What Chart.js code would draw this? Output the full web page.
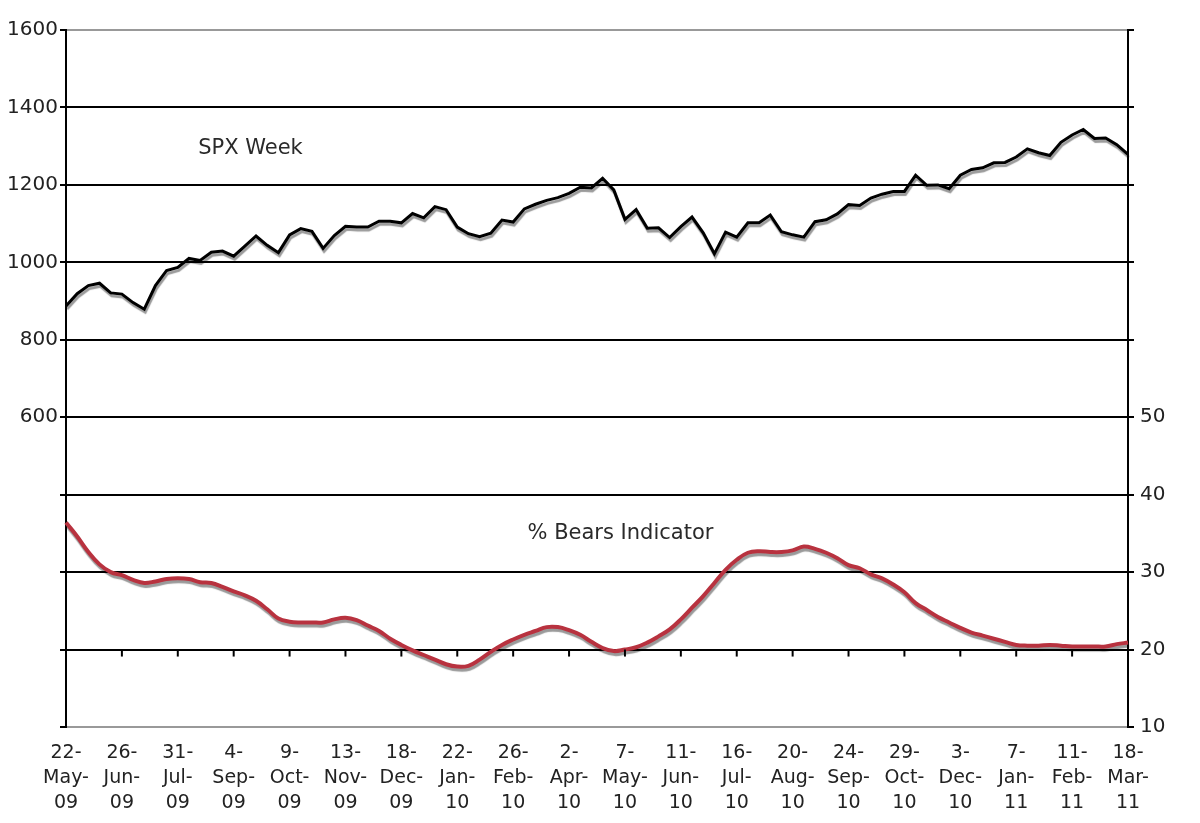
<!DOCTYPE html>
<html>
<head>
<meta charset="utf-8">
<script src="https://cdn.jsdelivr.net/npm/chart.js@4.4.1/dist/chart.umd.min.js"></script>
<style>
    body { margin: 0; background: #fff; }
    #wrap { width: 1200px; height: 823px; position: relative; }
</style>
</head>
<body>
<div id="wrap"><canvas id="spxChart"></canvas></div>
<script>
// Weekly closes, 22-May-09 .. 18-Mar-11 (96 weeks)
const firstWeek = Date.UTC(2009, 4, 22);
const weekCount = 96;

const spxWeek = [
    887, 919, 940, 946, 921, 918, 896, 879, 940, 979,
    987, 1010, 1005, 1026, 1029, 1016, 1042, 1068, 1044, 1025,
    1071, 1087, 1080, 1036, 1069, 1093, 1091, 1091, 1106, 1106,
    1102, 1126, 1115, 1144, 1136, 1091, 1074, 1066, 1075, 1109,
    1104, 1138, 1150, 1160, 1167, 1178, 1194, 1192, 1217, 1187,
    1111, 1136, 1088, 1089, 1064, 1092, 1117, 1076, 1022, 1078,
    1065, 1102, 1102, 1122, 1079, 1071, 1065, 1105, 1110, 1125,
    1149, 1147, 1166, 1176, 1183, 1183, 1225, 1199, 1200, 1190,
    1225, 1240, 1244, 1257, 1258, 1272, 1293, 1283, 1276, 1310,
    1329, 1343, 1320, 1321, 1304, 1279
];

const bearsPct = [
    36.4, 34.6, 32.6, 31.0, 30.0, 29.6, 29.0, 28.6, 28.8, 29.1,
    29.2, 29.1, 28.7, 28.6, 28.1, 27.5, 27.0, 26.3, 25.2, 24.0,
    23.6, 23.5, 23.5, 23.5, 23.9, 24.1, 23.8, 23.1, 22.4, 21.4,
    20.6, 19.9, 19.3, 18.7, 18.1, 17.8, 17.9, 18.7, 19.7, 20.6,
    21.3, 21.9, 22.4, 22.9, 22.9, 22.5, 21.9, 21.0, 20.2, 19.8,
    20.0, 20.3, 20.9, 21.7, 22.6, 23.9, 25.4, 26.9, 28.6, 30.3,
    31.6, 32.5, 32.7, 32.6, 32.6, 32.8, 33.3, 33.0, 32.5, 31.8,
    30.9, 30.5, 29.7, 29.2, 28.4, 27.4, 26.0, 25.1, 24.2, 23.5,
    22.8, 22.2, 21.8, 21.4, 21.0, 20.6, 20.5, 20.5, 20.6, 20.5,
    20.4, 20.4, 20.4, 20.4, 20.7, 20.9
];

const labelEvery = 5;
const leftLabelFrom = 600;   // lower left-axis labels are hidden in the original
const rightLabelTo = 50;     // right axis only labelled 10..50

const monthNames = ['Jan', 'Feb', 'Mar', 'Apr', 'May', 'Jun', 'Jul', 'Aug', 'Sep', 'Oct', 'Nov', 'Dec'];

function weekLabels() {
    const out = [];
    for (let i = 0; i < weekCount; i++) {
        const d = new Date(firstWeek + i * 7 * 86400000);
        const yy = String(d.getUTCFullYear()).slice(2);
        out.push(d.getUTCDate() + '-' + monthNames[d.getUTCMonth()] + '-' + yy);
    }
    return out;
}

document.addEventListener('DOMContentLoaded', function () {
    initSpxChart();
});

// grey drop shadow under both lines, like the Excel original
const lineShadow = {
    id: 'lineShadow',
    beforeDatasetDraw(chart) {
        const ctx = chart.ctx;
        ctx.save();
        ctx.shadowColor = 'rgba(0, 0, 0, 0.4)';
        ctx.shadowOffsetX = 1;
        ctx.shadowOffsetY = 3;
        ctx.shadowBlur = 1;
    },
    afterDatasetDraw(chart) {
        chart.ctx.restore();
    }
};

// category tick marks sit on the zero line of the left axis, plus the two captions
const extras = {
    id: 'extras',
    afterDraw(chart) {
        const ctx = chart.ctx;
        const x = chart.scales.x;
        const y = chart.scales.y;
        const y2 = chart.scales.y2;
        const zero = y.getPixelForValue(0);
        ctx.save();
        ctx.strokeStyle = '#000';
        ctx.lineWidth = 2;
        for (let i = labelEvery; i < weekCount - 1; i += labelEvery) {
            const px = x.getPixelForValue(i);
            ctx.beginPath();
            ctx.moveTo(px, zero);
            ctx.lineTo(px, zero + 7);
            ctx.stroke();
        }
        ctx.fillStyle = '#2a2a2a';
        ctx.font = "21px 'DejaVu Sans', sans-serif";
        ctx.textAlign = 'center';
        ctx.textBaseline = 'middle';
        ctx.fillText('SPX Week', x.getPixelForValue(16.5), y.getPixelForValue(1295));
        ctx.fillText('% Bears Indicator', x.getPixelForValue(49.6), y2.getPixelForValue(35.0));
        ctx.restore();
    }
};

function initSpxChart() {
    const ctx = document.getElementById('spxChart').getContext('2d');
    const tickFont = { family: "'DejaVu Sans', sans-serif", size: 20 };

    new Chart(ctx, {
        type: 'line',
        data: {
            labels: weekLabels(),
            datasets: [{
                label: 'SPX Week',
                data: spxWeek,
                yAxisID: 'y',
                borderColor: '#000',
                borderWidth: 3,
                pointRadius: 0,
                tension: 0
            }, {
                label: '% Bears Indicator',
                data: bearsPct,
                yAxisID: 'y2',
                borderColor: '#b8323f',
                borderWidth: 4,
                pointRadius: 0,
                tension: 0.4
            }]
        },
        options: {
            responsive: true,
            maintainAspectRatio: false,
            animation: false,
            layout: { padding: { top: 30, left: 0, right: 0, bottom: 0 } },
            plugins: {
                legend: { display: false },
                tooltip: { enabled: false }
            },
            scales: {
                x: {
                    type: 'category',
                    offset: false,
                    grid: { display: false, drawTicks: false },
                    border: { color: '#999', width: 2 },
                    ticks: {
                        autoSkip: false,
                        maxRotation: 0,
                        minRotation: 0,
                        padding: 14,
                        color: '#222',
                        font: { family: "'DejaVu Sans', sans-serif", size: 19, lineHeight: 1.3 },
                        callback: function (value, index) {
                            if (index % labelEvery !== 0) return '';
                            const parts = this.getLabelForValue(value).split('-');
                            return [parts[0] + '-', parts[1] + '-', parts[2]];
                        }
                    },
                    afterFit: function (scale) { scale.height = 96; }
                },
                y: {
                    position: 'left',
                    min: -200,
                    max: 1600,
                    ticks: {
                        stepSize: 200,
                        padding: 2,
                        color: '#222',
                        font: tickFont,
                        callback: function (value) {
                            return value >= leftLabelFrom ? value : '';
                        }
                    },
                    grid: {
                        color: function (c) {
                            return (c.tick && (c.tick.value === 1600 || c.tick.value === -200)) ? '#999' : '#000';
                        },
                        tickColor: '#000',
                        lineWidth: 2,
                        tickLength: 6
                    },
                    border: { color: '#000', width: 2 },
                    afterFit: function (scale) { scale.width = 66; }
                },
                y2: {
                    position: 'right',
                    min: 10,
                    max: 100,
                    ticks: {
                        stepSize: 10,
                        padding: 6,
                        color: '#222',
                        font: tickFont,
                        callback: function (value) {
                            return value <= rightLabelTo ? value : '';
                        }
                    },
                    grid: {
                        drawOnChartArea: false,
                        tickColor: '#000',
                        lineWidth: 2,
                        tickLength: 6
                    },
                    border: { color: '#000', width: 2 },
                    afterFit: function (scale) { scale.width = 72; }
                }
            }
        },
        plugins: [lineShadow, extras]
    });
}
</script>
</body>
</html>
